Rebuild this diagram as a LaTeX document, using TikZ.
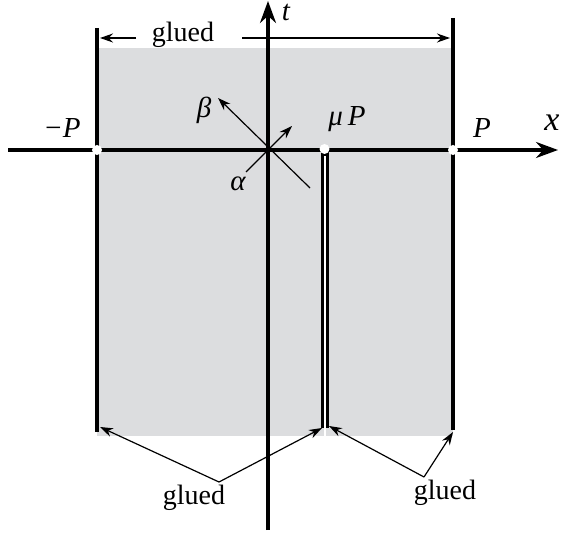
\documentclass[tikz,border=0pt]{standalone}
\usepackage{fontspec}
\setmainfont{Liberation Serif}
\usetikzlibrary{arrows.meta}
\definecolor{stripgray}{RGB}{220,221,223}
\begin{document}
\begin{tikzpicture}[x=0.5pt,y=-0.5pt,
  wall/.style={line width=2pt},
  axis/.style={line width=1.6pt,-{Stealth[length=11pt,width=8pt]}},
  thinarrow/.style={line width=0.6pt,-{Stealth[length=6.5pt,width=4.5pt]}},
  lbl/.style={font=\fontsize{14.5}{17}\selectfont\itshape, inner sep=0pt, anchor=base},
  glue/.style={font=\fontsize{14}{16}\selectfont, inner sep=0pt, anchor=base},
  dot/.style={circle,fill=white,minimum size=5pt,inner sep=0pt}]
\useasboundingbox (0,0) rectangle (561,533);
% shaded strip
\fill[stripgray] (97,48) rectangle (453,436);
\draw[white, line width=0.6pt] (325,428) -- (325,437);
% coordinates
\coordinate (xs) at (8,150);
\coordinate (xe) at (558,150);
\coordinate (ts) at (268,530);
\coordinate (te) at (268,1);
\coordinate (lt) at (97,28);
\coordinate (lb) at (97,432);
\coordinate (rt) at (453,18);
\coordinate (rb) at (453,430);
% axes
\draw[axis] (ts) -- (te);
\draw[axis] (xs) -- (xe);
% walls
\draw[wall] (lt) -- (lb);
\draw[wall] (rt) -- (rb);
% slit
\fill[black] (320.5,150) rectangle (328.5,428);
\fill[white] (324,156) rectangle (325.5,428);
% points
\node[dot] (pm) at (97,150) {};
\node[dot] (pmu) at (324.5,149) {};
\node[dot] (pp) at (453,150) {};
% labels
\node[lbl] (tl) at (286,21) {t};
\node[lbl, font=\fontsize{17}{19}\selectfont\itshape] (xl) at (552,131) {x};
\node[lbl] (mpl) at (62,138) {−P};
\node[lbl] (pl) at (482,138) {P};
\node[lbl] (mul) at (347,126) {μ\,P};
\node[lbl] (bl) at (204,118) {β};
\node[lbl] (al) at (238,191) {α};
% alpha beta arrows
\coordinate (b0) at (310,188);
\coordinate (b1) at (218,98);
\coordinate (a0) at (246,172);
\coordinate (a1) at (292,126);
\draw[thinarrow] (b0) -- (b1);
\draw[thinarrow] (a0) -- (a1);
% top glued
\node[glue] (gt) at (183,42) {glued};
\coordinate (gtl0) at (136,38);
\coordinate (gtl1) at (100,38);
\coordinate (gtr0) at (242,38);
\coordinate (gtr1) at (450,38);
\draw[thinarrow] (gtl0) -- (gtl1);
\draw[thinarrow] (gtr0) -- (gtr1);
% bottom left glued
\node[glue] (gl) at (194,504) {glued};
\coordinate (ap1) at (219,482);
\coordinate (tl1) at (100,427);
\coordinate (tl2) at (322,428);
\draw[thinarrow] (ap1) -- (tl1);
\draw[thinarrow] (ap1) -- (tl2);
% bottom right glued
\node[glue] (gr) at (445,499) {glued};
\coordinate (ap2) at (424,477);
\coordinate (tr1) at (329,426);
\coordinate (tr2) at (453,432);
\draw[thinarrow] (ap2) -- (tr1);
\draw[thinarrow] (ap2) -- (tr2);
\end{tikzpicture}
\end{document}
